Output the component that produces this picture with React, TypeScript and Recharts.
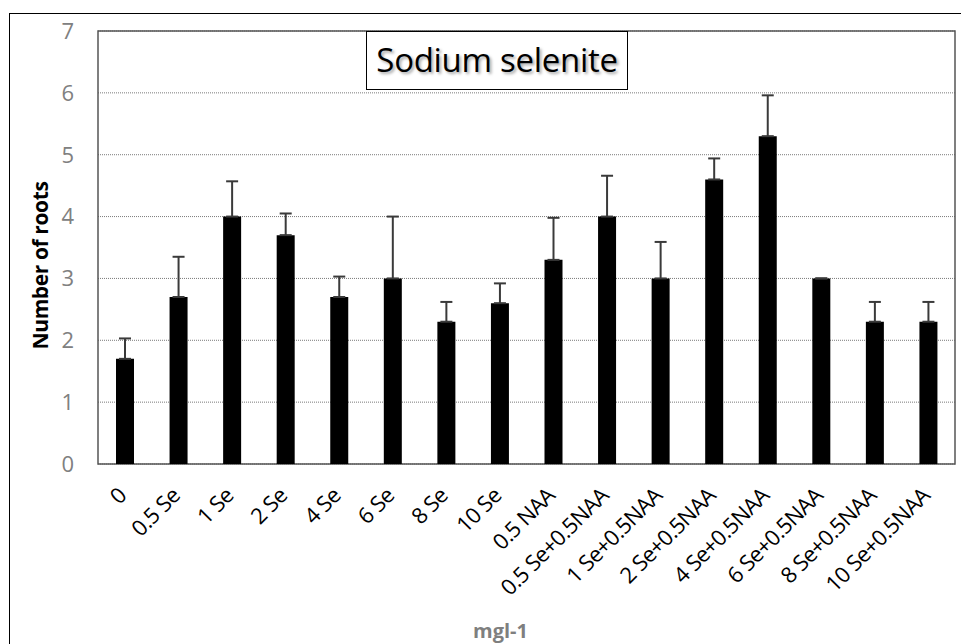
import {
  BarChart,
  Bar,
  XAxis,
  YAxis,
  CartesianGrid,
  ErrorBar,
  ReferenceArea,
} from 'recharts';

// treatment labels along the x axis
const categories = [
  '0',
  '0.5 Se',
  '1 Se',
  '2 Se',
  '4 Se',
  '6 Se',
  '8 Se',
  '10 Se',
  '0.5 NAA',
  '0.5 Se+0.5NAA',
  '1 Se+0.5NAA',
  '2 Se+0.5NAA',
  '4 Se+0.5NAA',
  '6 Se+0.5NAA',
  '8 Se+0.5NAA',
  '10 Se+0.5NAA',
];

// mean number of roots per treatment
const means = [1.7, 2.7, 4.0, 3.7, 2.7, 3.0, 2.3, 2.6, 3.3, 4.0, 3.0, 4.6, 5.3, 3.0, 2.3, 2.3];

// upper error (SE) per treatment
const errors = [0.33, 0.65, 0.57, 0.35, 0.33, 1.0, 0.32, 0.32, 0.68, 0.66, 0.59, 0.34, 0.66, 0, 0.32, 0.32];

const yTicks = [0, 1, 2, 3, 4, 5, 6, 7];

const data = categories.map((name, i) => ({
  name,
  mean: means[i],
  err: [0, errors[i]],
}));

const FONT = '"Open Sans", "Noto Sans", sans-serif';

function XTick(props: any) {
  const { x, y, payload } = props;
  const ax = x + 3;
  const ay = y + 31;
  return (
    <text
      x={ax}
      y={ay}
      transform={`rotate(-45, ${ax}, ${ay})`}
      textAnchor="end"
      fontSize={22}
      letterSpacing={-0.6}
      fontFamily={FONT}
      fill="#000"
    >
      {payload.value}
    </text>
  );
}

function YLabel(props: any) {
  const { viewBox } = props;
  const cx = viewBox.x + 12;
  const cy = viewBox.y + viewBox.height / 2 + 18;
  return (
    <text
      x={cx}
      y={cy}
      transform={`rotate(-90, ${cx}, ${cy})`}
      textAnchor="middle"
      dominantBaseline="central"
      fontSize={21}
      fontWeight="bold"
      letterSpacing={-0.4}
      fontFamily={FONT}
      fill="#000"
    >
      Number of roots
    </text>
  );
}

export default function App() {
  return (
    <div style={{ position: 'relative', width: 961, height: 636, fontFamily: FONT }}>
      {/* outer frame, only top/left fall inside the window */}
      <div
        style={{
          position: 'absolute',
          left: 1,
          top: 5,
          width: 959,
          height: 630,
          borderLeft: '1.5px solid #000',
          borderTop: '1.5px solid #000',
        }}
      />
      <BarChart
        width={961}
        height={636}
        data={data}
        margin={{ top: 23, right: 14, bottom: 4, left: 20 }}
        barSize={18}
      >
        <CartesianGrid
          horizontal
          vertical={false}
          stroke="#7a7a7a"
          strokeDasharray="1 1"
        />
        <XAxis
          dataKey="name"
          interval={0}
          tick={<XTick />}
          tickLine={false}
          tickSize={0}
          axisLine={false}
          height={176}
          label={{
            value: 'mgl-1',
            position: 'insideBottom',
            offset: 2,
            dx: -26,
            fontSize: 20,
            fontWeight: 'bold',
            fill: '#7f7f7f',
            fontFamily: FONT,
          }}
        />
        <YAxis
          domain={[0, 7]}
          ticks={yTicks}
          width={70}
          tickLine={false}
          axisLine={false}
          tickMargin={18}
          tick={{ fontSize: 22, fill: '#808080', fontFamily: FONT }}
          label={<YLabel />}
        />
        <ReferenceArea
          y1={0}
          y2={7}
          fill="none"
          stroke="#555"
          strokeWidth={1.5}
          ifOverflow="visible"
        />
        <Bar dataKey="mean" fill="#000" isAnimationActive={false}>
          <ErrorBar dataKey="err" width={6} stroke="#3a3a3a" strokeWidth={2} direction="y" />
        </Bar>
      </BarChart>
      <div
        style={{
          position: 'absolute',
          left: 358,
          top: 23,
          width: 262,
          height: 59,
          boxSizing: 'border-box',
          border: '1.5px solid #000',
          background: '#fff',
          fontSize: 33,
          lineHeight: '56px',
          textAlign: 'center',
          color: '#000',
          letterSpacing: -0.3,
          textShadow: '2px 2px 3px rgba(0,0,0,0.35)',
        }}
      >
        Sodium selenite
      </div>
    </div>
  );
}
